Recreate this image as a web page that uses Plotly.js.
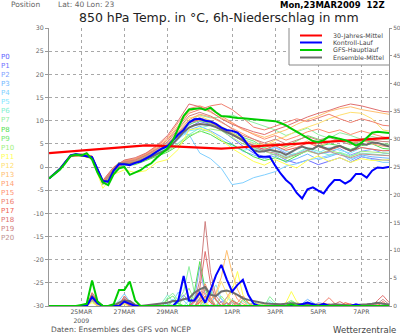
<!DOCTYPE html>
<html><head><meta charset="utf-8">
<script src="https://cdn.plot.ly/plotly-3.0.1.min.js"></script>
<style>html,body{margin:0;padding:0;background:#fff}#chart{width:400px;height:334px}</style>
</head><body><div id="chart"></div>
<script>
const hours6 = [0,6,12,18,24,30,36,42,48,54,60,66,72,78,84,90,96,102,108,114,120,126,132,138,144,150,156,162,168,174,180,186,192,198,204,210,216,222,228,234,240,246,252,258,264,270,276,282,288,294,300,306,312,318,324,330,336,342,348,354,360,366,372,378,384];
const hours12 = [0,12,24,36,48,60,72,84,96,108,120,132,144,156,168,180,192,204,216,228,240,252,264,276,288,300,312,324,336,348,360,372,384];
const dateTickHours = [36,84,132,204,252,300,348];
const dateTickLabels = ['25MAR<br>2009','27MAR','29MAR','1APR','3APR','5APR','7APR'];
const memberLabels = ['P0','P1','P2','P3','P4','P5','P6','P7','P8','P9','P10','P11','P12','P13','P14','P15','P16','P17','P18','P19','P20'];
const memberColors = ['#6060ff','#7070ff','#7f9fff','#70b8ff','#80d0ff','#80e6ff','#80f0d0','#90f0a0','#50e050','#70e870','#a0f080','#ffff50','#ffe070','#ffc070','#ffa070','#ff9070','#f08070','#f06050','#e07070','#d08080','#c09090'];
const legendNames = ['30-Jahres-Mittel','Kontroll-Lauf','GFS-Hauptlauf','Ensemble-Mittel'];

// 850 hPa temperature, 12-hourly, members P1..P20
const tempP1 = [-2.5,-0.5,2.4,2.7,2.1,-3.5,-0.8,0.7,1.0,1.6,2.6,3.8,6.0,8.5,9.8,9.2,8.0,6.2,4.5,3.0,2.2,2.8,1.5,0.8,1.5,0.5,1.2,2.0,1.0,2.2,1.8,1.5,1.4];
const tempP2 = [-2.5,-0.3,2.6,2.5,1.9,-3.2,-0.4,1.1,1.4,2.2,3.4,4.6,6.8,9.0,10.5,10.0,8.6,7.0,5.5,4.8,3.6,4.2,3.0,2.4,3.6,2.8,3.2,4.0,2.6,3.4,3.8,3.0,2.8];
const tempP3 = [-2.5,-0.6,2.3,2.6,2.2,-3.7,-0.9,0.6,0.8,1.8,2.9,4.0,6.4,8.0,8.8,7.8,6.5,5.0,3.4,2.6,1.8,2.4,1.0,1.8,2.8,1.6,2.2,3.0,1.4,2.6,2.2,2.0,1.8];
const tempP4 = [-2.5,-0.4,2.5,2.8,2.2,-3.0,-0.2,1.4,1.8,2.6,3.8,5.2,7.4,7.0,3.0,1.8,-0.3,-3.8,-3.4,-2.3,-1.7,-1.0,0.2,0.7,1.5,1.9,2.5,3.0,1.8,2.4,1.6,1.0,1.0];
const tempP5 = [-2.5,-0.5,2.5,2.5,2.0,-3.3,-0.5,1.0,1.3,2.2,3.0,4.2,6.0,7.8,8.2,7.5,6.0,4.4,3.6,4.0,3.2,4.4,3.4,2.8,4.0,3.0,4.2,3.6,3.0,4.2,3.8,3.5,3.4];
const tempP6 = [-2.5,-0.4,2.4,2.6,2.1,-3.4,-0.7,0.8,1.1,1.9,2.8,3.6,5.2,7.0,8.4,9.0,8.2,7.0,6.0,5.2,4.0,3.2,2.2,3.0,4.2,3.4,2.6,3.2,2.4,3.0,2.8,2.5,2.4];
const tempP7 = [-2.5,-0.5,2.5,2.7,2.0,-3.5,-0.6,0.9,1.2,2.0,3.1,4.4,7.0,9.8,11.2,10.6,10.8,11.2,10.4,9.6,8.8,8.0,6.8,7.6,8.4,7.0,6.2,7.4,6.8,6.0,6.6,6.0,5.8];
const tempP8 = [-2.5,-0.6,2.3,2.5,1.8,-3.8,-1.0,0.4,0.5,1.4,2.4,3.2,4.6,6.5,7.8,7.0,5.6,4.8,3.6,2.2,1.4,2.0,1.2,2.4,3.6,4.4,5.0,4.6,3.8,4.6,5.0,4.0,3.8];
const tempP9 = [-2.5,-0.4,2.5,2.6,2.2,-3.2,-0.4,1.0,1.3,2.3,3.3,4.8,7.2,9.2,10.0,9.4,8.4,7.4,6.4,5.6,4.2,5.0,4.4,5.6,6.8,6.0,5.4,6.2,5.0,5.8,5.4,5.0,4.8];
const tempP10 = [-2.5,-0.5,2.4,2.6,2.0,-3.6,-0.8,0.8,1.0,1.8,2.6,3.4,5.0,6.8,7.6,8.2,7.8,6.4,5.0,4.2,3.4,2.6,1.8,2.6,3.4,2.8,3.6,3.0,2.2,3.4,3.2,3.0,2.9];
const tempP11 = [-2.5,-0.6,2.2,2.4,1.8,-4.6,-1.6,-0.6,-1.2,-0.8,1.0,1.6,3.8,8.0,8.4,7.6,5.8,4.0,2.6,1.2,0.4,1.6,0.6,-0.2,1.4,2.4,1.2,2.0,1.0,1.8,1.4,1.5,1.6];
const tempP12 = [-2.5,-0.3,2.6,2.7,2.2,-3.1,-0.2,1.2,1.6,2.6,3.8,5.4,8.0,10.6,11.0,10.0,8.8,7.4,6.0,5.0,4.6,5.8,6.6,7.8,8.6,9.4,10.4,11.2,11.8,11.6,10.4,8.0,7.6];
const tempP13 = [-2.5,-0.4,2.5,2.8,2.3,-3.0,-0.1,1.4,1.8,2.8,4.2,6.0,9.0,12.0,12.8,11.8,10.6,9.4,8.0,7.2,6.4,7.2,8.0,9.2,10.2,11.0,12.0,12.6,13.0,12.4,12.0,11.5,11.2];
const tempP14 = [-2.5,-0.5,2.4,2.6,2.0,-3.4,-0.5,1.0,1.4,2.4,3.6,5.0,7.6,10.2,11.4,10.8,9.6,8.4,7.2,6.0,4.8,5.2,4.0,4.8,5.6,4.6,5.4,6.0,5.2,5.8,5.0,4.5,4.4];
const tempP15 = [-2.5,-0.4,2.6,2.7,2.2,-3.2,-0.3,1.3,1.7,2.9,4.4,6.4,9.6,12.6,13.2,12.4,11.0,9.6,8.2,7.0,6.0,6.8,5.8,6.6,7.6,8.2,7.4,8.0,7.0,7.8,7.2,6.5,6.2];
const tempP16 = [-2.5,-0.5,2.5,2.6,2.1,-3.3,-0.4,1.1,1.5,2.6,4.0,5.8,8.6,11.6,12.4,13.2,13.6,12.4,10.6,8.6,8.0,8.8,9.6,10.4,9.8,10.6,11.4,10.4,9.6,10.4,9.8,9.0,8.8];
const tempP17 = [-2.5,-0.6,2.3,2.5,1.9,-3.6,-0.7,0.8,1.1,2.0,3.2,4.6,7.2,9.6,10.2,9.6,8.4,7.0,5.6,4.6,3.8,4.6,3.6,4.2,5.2,4.4,3.6,4.4,3.4,4.2,3.8,3.5,3.6];
const tempP18 = [-2.5,-0.3,2.6,2.8,2.4,-2.9,0.0,1.5,2.0,3.0,4.6,6.8,10.0,13.6,13.0,12.0,10.4,9.2,8.4,7.6,7.0,8.0,8.8,9.8,10.8,11.6,12.2,13.0,13.6,13.2,12.6,12.0,11.8];
const tempP19 = [-2.5,-0.4,2.5,2.7,2.1,-3.3,-0.4,1.1,1.5,2.5,3.8,5.4,8.2,11.0,11.8,11.0,9.8,8.2,6.8,6.0,5.2,6.0,5.0,5.8,6.6,5.8,6.4,5.6,4.8,5.6,5.8,5.5,5.4];
const tempP20 = [-2.5,-0.5,2.4,2.6,2.0,-3.5,-0.6,0.9,1.2,2.1,3.3,4.8,7.4,9.8,10.6,9.8,8.6,7.2,5.8,4.4,3.4,3.0,2.0,2.8,3.6,2.8,3.4,2.6,2.0,2.8,2.6,2.5,2.4];

// 6h precipitation, 6-hourly, members P1..P20
const precP1 = [0,0,0,0,0,0,0,0.2,1.8,0.6, 0,0,0,0.5,1.2,0.6,0,0,0,0, 0,0,0,0,0.8,2.0,0.8,0.8,1.0,0.4, 0,0,0.8,0.5,0,0,0,0,0,0, 0,0,0,0,0,0,0,0,0.6,0.3, 0,0,0,0,0,0,0.2,0,0,0, 0.3,0,0,0,0];
const precP2 = [0,0,0,0,0,0,0,0,1.2,0.4, 0,0,0,0,0.8,0.4,0,0,0,0, 0,0,0,0,0,0,0,1.2,7.1,2.0, 0.6,0,0,0,1.0,0.4,0,0,0,0, 0,0,0,0,0,0,0,0,0,0, 0.6,0.4,0,0,0,0,0,0,0.2,0, 0,0,0,0,0];
const precP3 = [0,0,0,0,0,0,0,0,2.2,0.8, 0,0,0,0.6,1.6,0,0,0,0,0, 0,0,0,0,0.6,1.4,0.8,0,0,0, 0,2.4,1.2,0.6,0,0,0,0,0,0, 0,0,0,0,0,0,0,0.4,1.2,0.6, 0,0,0,0,0,0,0,0,0,0, 0.4,0,0,0,0];
const precP4 = [0,0,0,0,0,0,0,0,1.6,1.0, 0,0,0,1.0,2.2,0.8,0,0,0,0, 0,0,0,0.8,2.5,1.0,0,0,0,1.6, 3.0,1.2,0,0,0,0,0,0,0,0, 0,0.6,0.3,0,0,0,0,0,0,0, 0,0,0,0,0,0,0.2,0,0,0, 0,0,0,0,0];
const precP5 = [0,0,0,0,0,0,0,0,1.0,0, 0,0,0,0,0.6,0,0,0,0,0, 0,0,0.4,1.2,0.6,0,0,0,0,0, 2.2,3.8,1.4,0,0,0,0.8,0.3,0,0, 0,0,0,0,0,0,0,0,0.3,0, 0,0,0,0,0,0,0,0,0,0, 0,0,0.2,0,0];
const precP6 = [0,0,0,0,0,0,0,0,0.8,0.3, 0,0,0,0,0.4,0,0,0,0,0, 0,0.6,2.0,0.8,0,0,1.0,2.8,1.2,0, 0,0,0,1.6,0.6,0,0,0,0,0, 0.4,1.0,0.3,0,0,0,0,0,0,0, 0,0,0,0,0,0,0,0,0,0, 0,0,0,0,0];
const precP7 = [0,0,0,0,0,0,0,0,1.4,0.5, 0,0,0,0.3,0.8,0,0,0,0,0, 0,0,1.5,2.3,1.0,2.6,7.1,2.4,0.6,0, 0,0,0,0,1.2,0.5,0,0,0,0, 0,1.7,0.6,0,0,0,0,0,0,0, 0,0,0,0,0,0,0,0,0,0, 0,0,0,0,0];
const precP8 = [0,0,0,0,0,0,0,0,2.0,0.6, 0,0,0,0,1.0,0.5,0,0,0,0, 0,0,0,1.0,0.4,0,0,2.6,8.0,3.0, 1.0,0,0,0,0,0,1.2,0.5,0,0, 0,0,0,0,0,0.8,0.3,0,0,0, 0,0,0,0,0,0,0,0,0,0, 0,0,0,0,0];
const precP9 = [0,0,0,0,0,0,0,0,1.2,0.4, 0,0,0,0,0.7,0,0,0,0,0, 0,0,1.2,1.8,0.6,0,0,0,0,1.4, 2.6,1.0,0,0,0,0,0,0,0.8,0.3, 0,0,0,0,0.5,1.0,0.4,0,0,0, 0,0,0,0,0,0,0,0,0,0, 0,0,0,0,0];
const precP10 = [0,0,0,0,0,0,0,0,0.9,0, 0,0,0,0.4,1.0,0,0,0,0,0, 0,0.4,0.8,0,0,1.6,3.2,1.0,0,0, 0,0,1.8,0.6,0,0,0,0,0,0, 0,0,0,0,0,0,0,0,0.4,0.2, 0,0,0,0,0,0,0,0,0,0, 0,0,0,0,0];
const precP11 = [0,0,0,0,0,0,0,0,0.6,0, 0,0,0,0,0.3,0,0,0,0,0, 0,0,0,0,0,0,0,0,1.0,0.5, 0,0,0,0.8,2.8,6.2,2.0,0.6,0,0, 0,0,0,0,0.6,2.6,0.8,0,0,0, 0,0,0.3,0,0,0,0,0,0,0, 0,0,0,0,0];
const precP12 = [0,0,0,0,0,0,0,0,1.0,0.4, 0,0,0,0,0.5,0,0,0,0,0, 0,0,0,0,0,0,0,0,0,0, 1.2,2.0,4.4,2.2,0.8,0,0,0,0,0.6, 0.3,0,0,0,0,0,0,0,0,0, 0,0,0,0,0,0.4,0.2,0,0,0, 0,0,0,0,0];
const precP13 = [0,0,0,0,0,0,0,0,1.4,0.6, 0,0,0,0,0.9,0.3,0,0,0,0, 0,0,0,0,0,0,0,0,0,1.6, 1.0,2.4,5.2,10.0,6.0,3.0,1.0,0,0,0, 0,0,0,0,0,0,0,0.4,0.6,0, 0,0,0,0,0,0,0,0,0,0, 0,0,0,0,0];
const precP14 = [0,0,0,0,0,0,0,0,1.2,0, 0,0,0,0,0.6,0,0,0,0,0, 0,0,0,0,0,0,0,0,0.8,2.4, 0.8,0,0,1.4,3.0,1.2,0.4,0,0,0, 0,0,0,0,0,0,0,0,0,0, 0,0.5,0.3,0,0,0,0,0,0,0, 0,0.3,0,0,0];
const precP15 = [0,0,0,0,0,0,0,0,1.6,0.6, 0,0,0,0,1.2,0.4,0,0,0,0, 0,0,0,0,0,0,0,0.6,2.0,4.0, 1.6,0,0,0,0,0.6,1.8,0.6,0,0, 0,0,0,0,0,0,0,0,0,0, 0.4,0,0,0,0,0,0,0,0,0, 0,0,0,0,0];
const precP16 = [0,0,0,0,0,0,0,0,2.0,0.8, 0,0,0,0.4,1.4,0,0,0,0,0, 0,0,0,0,0,0,0,0,1.2,3.0, 2.2,1.0,0,0,0,0,0,0,0,0, 0,0,0,0,0,0,0,0,0,0, 0,0.6,1.5,0.5,0,0,0,0,0,0, 0.3,0,0,0,0];
const precP17 = [0,0,0,0,0,0,0,0,2.4,1.0, 0,0,0,0,1.8,0.6,0,0,0,0, 0,0,0,0,0,0,0,0,0.6,1.8, 0.6,0,0,0,1.0,0.4,0,0,0,0, 0,0,0,0,0,0,0,0,0,0, 0,0,0,0,0,0.6,0.3,0,0,0, 0,0,0.8,0,0];
const precP18 = [0,0,0,0,0,0,0,0,1.8,0.5, 0,0,0,0,1.2,0,0,0,0,0, 0,0,0,0,0,0,0,1.0,3.2,9.8, 4.0,1.2,0,0.6,0,0,0,0,0,0, 0,0,0,0,0,0,0,0,0,0, 0,0,0,0.3,0.8,0.3,0,0,0,0, 0,1.0,1.9,0.8,0];
const precP19 = [0,0,0,0,0,0,0,0,1.4,0.4, 0,0,0,0,0.8,0,0,0,0,0, 0,0,0,0,0,0,0,0.8,4.6,15.2, 6.0,1.8,0.6,0,0,0,0,0,0,0, 0,0,0,0,0,0,0,0,0,0.3, 0,0,0.4,0,0,0,0,0,0,0, 0,0,0,0,0];
const precP20 = [0,0,0,0,0,0,0,0,1.0,0.6, 0,0,0,0,1.0,0.3,0,0,0,0, 0,0,0,0,0,0,0,0,1.4,3.6, 1.2,0,0,0,0.6,0.3,0,0,0,0, 0,0,0,0,0,0,0,0,0,0, 0,0,0,0,0,0,0.4,0,0,0, 0,0.4,1.2,0.4,0];

// main runs, 6-hourly (climatology 12-hourly)
const tempControl = [-2.5,-1.6,-0.5,1.0,2.5,2.8,2.5,2.3,2.1,-0.5,-3.0,-3.2,-0.8,0.6,0.6,0.4,0.9,1.2,1.8,2.5,3.3,4.0,4.5,5.8,7.0,8.0,9.6,10.3,10.4,10.0,9.8,9.3,8.5,8.0,7.8,7.4,6.3,4.7,3.5,2.2,2.2,2.2,0.3,-1.4,-2.8,-3.8,-5.6,-6.8,-4.8,-4.4,-5.1,-5.7,-4.1,-2.8,-2.8,-3.6,-2.9,-1.5,-1.5,-2.3,-0.8,-0.1,-0.2,0.0,0.0];
const tempGFS = [-2.5,-1.5,-0.6,0.8,2.4,2.7,2.5,3.0,1.6,-1.2,-3.3,-3.9,-1.6,-0.3,0.0,-1.7,-1.2,-0.7,0.2,0.8,2.0,3.0,4.0,5.7,8.3,11.0,12.4,12.5,12.7,12.3,12.8,11.8,11.0,10.9,10.7,10.6,10.5,10.4,10.3,10.3,10.2,10.1,9.9,9.5,9.0,8.3,7.6,6.9,6.3,5.6,5.4,5.8,6.6,6.3,6.0,5.8,5.3,4.6,5.2,6.2,7.4,7.6,7.5,7.3,7.2];
const tempMean = [-2.5,-1.4,-0.4,1.0,2.3,2.6,2.5,2.3,2.0,-0.8,-3.2,-3.0,-0.7,0.8,0.7,0.6,0.9,1.3,1.8,2.2,2.8,3.3,3.8,5.0,6.3,7.6,8.5,9.0,9.3,9.2,9.0,8.6,8.0,7.5,7.0,6.4,5.8,4.6,3.6,3.3,3.4,3.7,3.5,3.2,2.6,3.3,3.9,4.4,4.0,3.9,4.6,4.2,3.8,4.3,4.6,4.0,3.5,4.0,5.0,4.8,5.3,5.2,4.8,4.5,4.4];
const tempClimate = [3.0,3.2,3.4,3.6,3.8,4.0,4.2,4.4,4.6,4.65,4.6,4.5,4.35,4.2,4.1,4.0,3.95,4.1,4.3,4.45,4.6,4.7,4.85,5.0,5.1,5.3,5.5,5.65,5.8,5.95,6.1,6.25,6.35];
const precControl = [0,0,0,0,0,0,0,0,1.6,0.5, 0,0,0,0,0.8,0.4,0,0,0,0, 0,0,0,0,1.0,5.4,1.0,1.0,2.4,0.6, 2.8,5.5,7.4,4.8,2.6,3.8,4.7,2.0,0.4,0, 0,0,0,0,0,0,0,0.3,0.6,0.3, 0,0.4,0,0,0,0,0,0.3,0,0, 0,0,0,0,0];
const precGFS = [0,0,0,0,0,0,0.2,0.4,4.6,0.8, 0,0,0.3,2.9,2.9,4.4,1.0,0,0,0, 0,0,0,0,0,0,0,0,0,0, 0,0,0,0,0,0,0,0,0,0, 0,0,0,0,0,0.3,0,0,0,0, 0,0,0,0,0,0,0,0,0,0, 0,0,0,0,0];
const precMean = [0,0,0,0,0,0,0,0.2,1.7,0.8, 0,0,0.1,0.6,1.0,0.9,0.2,0,0.1,0.2, 0.3,0.4,0.6,0.9,0.9,1.2,1.4,2.4,3.0,3.4, 2.0,1.8,2.6,2.8,2.5,2.0,1.4,1.1,0.9,0.6, 0.5,0.4,0.3,0.3,0.4,0.5,0.4,0.3,0.4,0.3, 0.2,0.3,0.2,0.3,0.2,0.1,0.1,0.2,0.2,0.3, 0.4,0.6,0.4,0.3,0.2];

const memberTemps = [tempP1,tempP2,tempP3,tempP4,tempP5,tempP6,tempP7,tempP8,tempP9,tempP10,tempP11,tempP12,tempP13,tempP14,tempP15,tempP16,tempP17,tempP18,tempP19,tempP20];
const memberPrecs = [precP1,precP2,precP3,precP4,precP5,precP6,precP7,precP8,precP9,precP10,precP11,precP12,precP13,precP14,precP15,precP16,precP17,precP18,precP19,precP20];

const traces = [];
memberTemps.forEach((t, i) => traces.push({x: hours12, y: t, type: 'scatter', mode: 'lines', yaxis: 'y', line: {color: memberColors[i+1], width: 1}, showlegend: false, hoverinfo: 'skip'}));
memberPrecs.forEach((p, i) => traces.push({x: hours6, y: p, type: 'scatter', mode: 'lines', yaxis: 'y2', line: {color: memberColors[i+1], width: 1}, showlegend: false, hoverinfo: 'skip'}));
traces.push({x: hours6, y: tempMean, type:'scatter', mode:'lines', yaxis:'y', line:{color:'#6e6e6e', width:2}, showlegend:false});
traces.push({x: hours6, y: precMean, type:'scatter', mode:'lines', yaxis:'y2', line:{color:'#6e6e6e', width:2}, showlegend:false});
traces.push({x: hours12, y: tempClimate, type:'scatter', mode:'lines', yaxis:'y', line:{color:'#ff0000', width:2.2}, showlegend:false});
traces.push({x: hours6, y: tempControl, type:'scatter', mode:'lines', yaxis:'y', line:{color:'#0000ff', width:2}, showlegend:false});
traces.push({x: hours6, y: precControl, type:'scatter', mode:'lines', yaxis:'y2', line:{color:'#0000ff', width:2}, showlegend:false});
traces.push({x: hours6, y: tempGFS, type:'scatter', mode:'lines', yaxis:'y', line:{color:'#00cc00', width:2}, showlegend:false});
traces.push({x: hours6, y: precGFS, type:'scatter', mode:'lines', yaxis:'y2', line:{color:'#00cc00', width:2}, showlegend:false});

const L = 49, R = 389, T = 28, B = 306;
const px = v => (v - L) / (R - L);
const py = v => (B - v) / (B - T);
const FONT = 'DejaVu Sans, sans-serif';
function ann(text, x, y, size, color, xanchor, extra) {
  return Object.assign({text, xref:'paper', yref:'paper', x: px(x), y: py(y), showarrow:false,
    xanchor: xanchor || 'left', yanchor:'middle', borderpad: 0, font:{family:FONT, size, color}}, extra || {});
}

const annotations = [
  ann('Position', 10, 4.5, 7.5, '#666'),
  ann('Lat: 40 Lon: 23', 57, 4.5, 7.5, '#666'),
  ann('<b>Mon,23MAR2009  12Z</b>', 386, 4.5, 8.5, '#000', 'right'),
  ann('850 hPa Temp. in °C, 6h-Niederschlag in mm', 219, 17, 12.5, '#222', 'center'),
  ann('Daten: Ensembles des GFS von NCEP', 50, 329.5, 7.5, '#555'),
  ann('Wetterzentrale', 397, 329.5, 8.5, '#444', 'right')
];
memberLabels.forEach((lab, i) => annotations.push(ann(lab, 0, 57 + i * 9.07, 7, memberColors[i])));
const legendColors = ['#ff0000', '#0000ff', '#00cc00', '#6e6e6e'];
const legendRows = [35.5, 42.5, 50, 57.5];
const shapes = [
  {type:'rect', xref:'paper', yref:'paper', x0: px(289), x1: px(388.5), y0: py(65), y1: 1, fillcolor:'#fff', line:{width:0}, layer:'above'},
  {type:'line', xref:'paper', yref:'paper', x0: px(289), x1: px(289), y0: py(65), y1: 1, line:{color:'#888', width:1}, layer:'above'},
  {type:'line', xref:'paper', yref:'paper', x0: px(289), x1: 1, y0: py(65), y1: py(65), line:{color:'#888', width:1}, layer:'above'}
];
legendNames.forEach((n, i) => {
  shapes.push({type:'line', xref:'paper', yref:'paper', x0: px(300), x1: px(322), y0: py(legendRows[i]), y1: py(legendRows[i]), line:{color: legendColors[i], width: 2}, layer:'above'});
  annotations.push(ann(n, 332, legendRows[i], 6.3, '#444'));
});

const leftVals = [-30,-25,-20,-15,-10,-5,0,5,10,15,20,25,30];
const rightVals = [0,5,10,15,20,25,30,35,40,45,50];
const layout = {
  width: 400, height: 334,
  margin: {l: L, r: 400 - R, t: T, b: 334 - B, pad: 0},
  paper_bgcolor: '#fff', plot_bgcolor: '#fff',
  showlegend: false,
  font: {family: FONT, color: '#555'},
  xaxis: {range: [0, 378.8], tickmode:'array', tickvals: dateTickHours, ticktext: dateTickLabels,
    showgrid: true, gridcolor: '#a8a8a8', griddash: 'dot', gridwidth: 1, zeroline: false,
    showline: true, linecolor: '#999', linewidth: 1, ticks: '', tickfont: {family: FONT, size: 6.2, color: '#555'}, fixedrange: true},
  yaxis: {range: [-30, 30], tickmode:'array', tickvals: leftVals, ticktext: leftVals.map(v => String(v)),
    showgrid: true, gridcolor: '#a8a8a8', griddash: 'dot', gridwidth: 1, zeroline: false,
    showline: true, linecolor: '#999', linewidth: 1, ticks: 'outside', ticklen: 3, tickcolor: '#999',
    tickfont: {family: FONT, size: 6.3, color: '#666'}, fixedrange: true},
  yaxis2: {range: [0, 50], overlaying: 'y', side: 'right', tickmode:'array', tickvals: rightVals, ticktext: rightVals.map(v => String(v)),
    showgrid: false, zeroline: false, showline: true, linecolor: '#999', linewidth: 1, ticks: 'outside', ticklen: 2, tickcolor: '#999',
    tickfont: {family: FONT, size: 5.8, color: '#666'}, fixedrange: true},
  annotations, shapes
};
Plotly.newPlot('chart', traces, layout, {staticPlot: true, displayModeBar: false});
</script>
</body></html>
